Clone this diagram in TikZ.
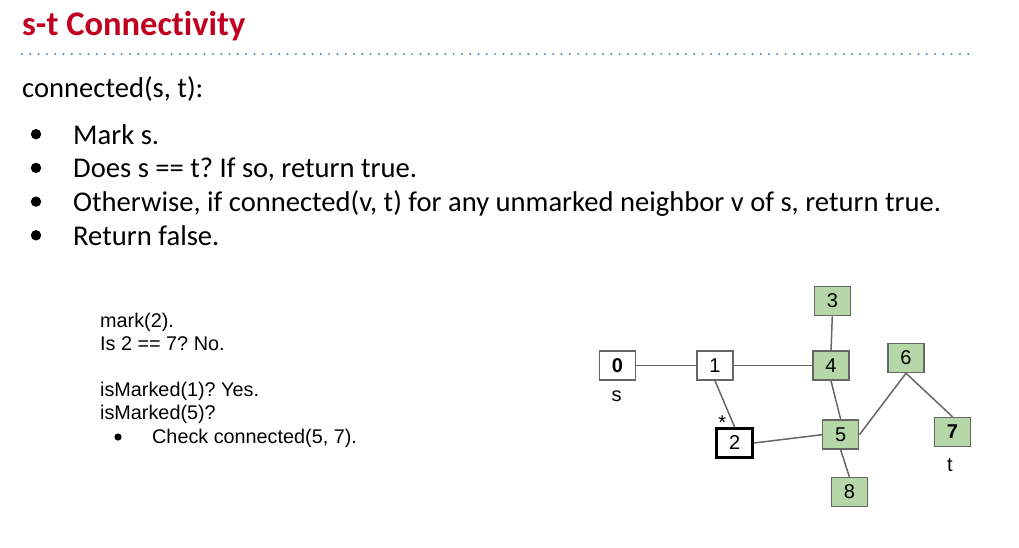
\documentclass[tikz,border=0pt]{standalone}
\usepackage{fontspec}
\setmainfont{Carlito}[Ligatures=NoCommon]
\newfontfamily\arialfont{Liberation Sans}
\definecolor{titlered}{RGB}{192,0,32}
\definecolor{dotblue}{RGB}{61,133,198}
\definecolor{edgegray}{RGB}{102,102,102}
\definecolor{markgreen}{RGB}{182,215,168}
\frenchspacing
\begin{document}
\begin{tikzpicture}[x=1pt,y=-1pt,
    txt/.style={anchor=base west, inner sep=0pt},
    vertex/.style={draw=edgegray, line width=1.5pt, fill=white, minimum width=36, minimum height=29, inner sep=0pt, font=\arialfont\fontsize{20}{20}\selectfont},
    visited/.style={vertex, fill=markgreen},
    current/.style={vertex, draw=black, line width=2.5pt},
    tag/.style={inner sep=0pt, font=\arialfont\fontsize{20}{20}\selectfont},
    edge/.style={edgegray, line width=1.5pt}]
    \useasboundingbox (0, 0) rectangle (1019, 547);
    %title
    \node[txt, text=titlered, font=\bfseries\fontsize{34.5}{34.5}\selectfont] (title) at (22, 35) {s-t Connectivity};
    \draw[dotblue, line width=2.2pt, line cap=round, dash pattern=on 0pt off 8.3pt] (22, 54) -- (970, 54);
    %algorithm
    \node[txt, font=\fontsize{28.6}{28.6}\selectfont] (algo) at (22, 97) {connected(s, t):};
    \foreach \line [count=\i] in {Mark s., {Does s == t? If so, return true.}, {Otherwise, if connected(v, t) for any unmarked neighbor v of s, return true.}, Return false.} {
        \node[txt, font=\fontsize{28.6}{28.6}\selectfont] (step\i) at (73, 110.5 + 33.7 * \i) {\line};
        \fill (36, 100.5 + 33.7 * \i) circle (5.2);
    }
    %trace
    \foreach \line [count=\i] in {mark(2)., Is 2 == 7? No., , isMarked(1)? Yes., isMarked(5)?} {
        \node[txt, font=\arialfont\fontsize{19.8}{19.8}\selectfont] (trace\i) at (100, 304 + 23 * \i) {\line};
    }
    \node[txt, font=\arialfont\fontsize{19.8}{19.8}\selectfont] (check) at (152, 443) {Check connected(5, 7).};
    \fill (118, 437) circle (3.6);
    %graph
    \node[vertex] (n0) at (617.5, 365.5) {\textbf{0}};
    \node[vertex] (n1) at (715, 365.5) {1};
    \node[current] (n2) at (734.7, 443) {2};
    \node[visited] (n3) at (832.3, 301) {3};
    \node[visited] (n4) at (831, 365.5) {4};
    \node[visited] (n5) at (840.7, 434.7) {5};
    \node[visited] (n6) at (906, 358) {6};
    \node[visited] (n7) at (952.5, 432) {\textbf{7}};
    \node[visited] (n8) at (849.3, 492) {8};
    \node[tag] (s) at (616.7, 396.7) {s};
    \node[tag] (t) at (950, 465) {t};
    \node[tag] (star) at (722.3, 423) {*};
    \draw[edge] (n0) -- (n1);
    \draw[edge] (n1) -- (n4);
    \draw[edge] (n3.south) -- (n4.north);
    \draw[edge] (n1.south) -- (n2.north);
    \draw[edge] (n2.east) -- (n5.west);
    \draw[edge] (n4.south) -- (n5.north);
    \draw[edge] (n5.east) -- (n6.south);
    \draw[edge] (n6.south) -- (n7.north);
    \draw[edge] (n5.south) -- (n8.north);
\end{tikzpicture}
\end{document}
